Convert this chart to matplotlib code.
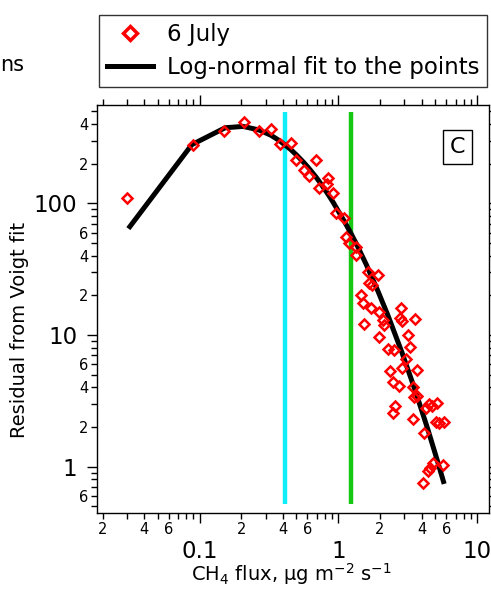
import numpy as np
import matplotlib.pyplot as plt
from matplotlib.ticker import LogLocator, FuncFormatter
from matplotlib.lines import Line2D

# 6 July points: CH4 flux vs residual from Voigt fit
flux = [0.0299, 0.0902, 0.151, 0.209, 0.268, 0.327, 0.379, 0.453, 0.500, 0.565,
        0.613, 0.686, 0.728, 0.845, 0.83, 0.918, 0.962, 1.10, 1.14, 1.20,
        1.34, 1.34, 1.63, 1.92, 1.67, 1.76, 1.46, 1.50, 1.72, 1.54,
        1.97, 2.09, 2.14, 2.83, 2.90, 2.78, 3.57, 1.97, 2.27, 2.53,
        3.16, 3.29, 3.07, 3.69, 2.88, 2.36, 2.46, 2.75, 3.43, 3.54,
        3.70, 2.58, 2.46, 3.43, 4.53, 5.11, 4.28, 4.73, 5.03, 5.74,
        5.35, 4.17, 4.79, 5.65, 4.40, 4.10, 4.60]
residual = [109, 277, 354, 418, 354, 365, 283, 285, 215, 180,
            162, 215, 130, 157, 140, 119, 84, 78, 56, 50,
            47, 40.5, 30.3, 28.6, 24.7, 24, 20.1, 17.4, 16, 12.1,
            15, 13, 11.9, 16, 12.8, 13.4, 13.2, 9.6, 7.8, 7.7,
            10, 8.1, 6.6, 5.4, 5.6, 5.3, 4.4, 4.1, 4.05, 3.4,
            3.45, 2.9, 2.54, 2.29, 2.99, 3.03, 2.8, 2.9, 2.17, 2.17,
            2.15, 1.79, 1.06, 1.03, 0.92, 0.75, 0.97]

# log-normal fit curve
fit_x = [0.0307, 0.088, 0.153, 0.206, 0.268, 0.327, 0.379, 0.453, 0.50, 0.565,
         0.613, 0.686, 0.728, 0.845, 0.918, 1.114, 1.21, 1.35, 1.59, 1.93,
         2.28, 2.87, 3.59, 4.43, 5.14, 5.8]
fit_y = [64.3, 279, 375, 384, 361, 329, 298, 257, 233, 204,
         185, 160, 147, 117, 102, 72, 61.5, 49.3, 34.4, 21.6,
         14.1, 7.43, 3.78, 1.91, 1.14, 0.74]

cyan_x = 0.413
green_x = 1.235
vline_span = [0.52, 490]

fig = plt.figure(figsize=(4.91, 5.94), dpi=100)
ax = fig.add_axes([0.197, 0.137, 0.7995, 0.686])

ax.vlines(cyan_x, *vline_span, color='#10EEFA', lw=3.2, zorder=2)
ax.vlines(green_x, *vline_span, color='#14C814', lw=3.2, zorder=2)
ax.plot(fit_x, fit_y, color='black', lw=3.6, solid_capstyle='butt', zorder=3)
ax.plot(flux, residual, ls='none', marker='D', ms=5, mfc='none', mec='red',
        mew=1.8, zorder=4)

ax.set_xscale('log')
ax.set_yscale('log')
ax.set_xlim(0.01816, 12.26)
ax.set_ylim(0.448, 557)

def minor_label(v, pos):
    m = round(v / 10 ** np.floor(np.log10(v) + 1e-9))
    return str(m) if m in (2, 4, 6) else ''

for axis in (ax.xaxis, ax.yaxis):
    axis.set_major_locator(LogLocator(base=10, numticks=20))
    axis.set_minor_locator(LogLocator(base=10, subs=np.arange(2, 10), numticks=20))
    axis.set_minor_formatter(FuncFormatter(minor_label))
    axis.set_major_formatter(FuncFormatter(lambda v, p: '%g' % v))

ax.tick_params(which='both', direction='out', top=True, right=True, width=1)
ax.tick_params(which='major', length=7, labelsize=16.5)
ax.tick_params(which='minor', length=4, labelsize=10.5)
ax.tick_params(axis='x', which='major', pad=13)
ax.tick_params(axis='x', which='minor', pad=3)
ax.tick_params(axis='y', which='major', pad=7)
ax.tick_params(axis='y', which='minor', pad=2)
for s in ax.spines.values():
    s.set_linewidth(1)

fig.text(20 / 491, 1 - 330 / 594, 'Residual from Voigt fit', rotation=90,
         ha='center', va='center', fontsize=14)
fig.text(291 / 491, 1 - 574 / 594, 'CH$_4$ flux, µg m$^{-2}$ s$^{-1}$',
         ha='center', va='center', fontsize=14)

ax.text(0.92, 0.897, 'C', transform=ax.transAxes, ha='center', va='center',
        fontsize=16, bbox=dict(boxstyle='square,pad=0.3', fc='white', ec='black', lw=1))

handles = [Line2D([0], [0], ls='none', marker='D', ms=7, mfc='none', mec='red', mew=2.5),
           Line2D([0], [0], color='black', lw=3.6)]
fig.legend(handles, ['6 July', 'Log-normal fit to the points'],
           loc='upper left', bbox_to_anchor=(99 / 491, 1 - 15 / 594),
           fontsize=16.5, frameon=True, fancybox=False, edgecolor='black',
           handlelength=2.0, handletextpad=0.6, borderpad=0.35, labelspacing=0.45,
           borderaxespad=0)

fig.text(0, 1 - 65 / 594, 'ns', ha='left', va='center', fontsize=15)

fig.savefig('out.png', dpi=100)
